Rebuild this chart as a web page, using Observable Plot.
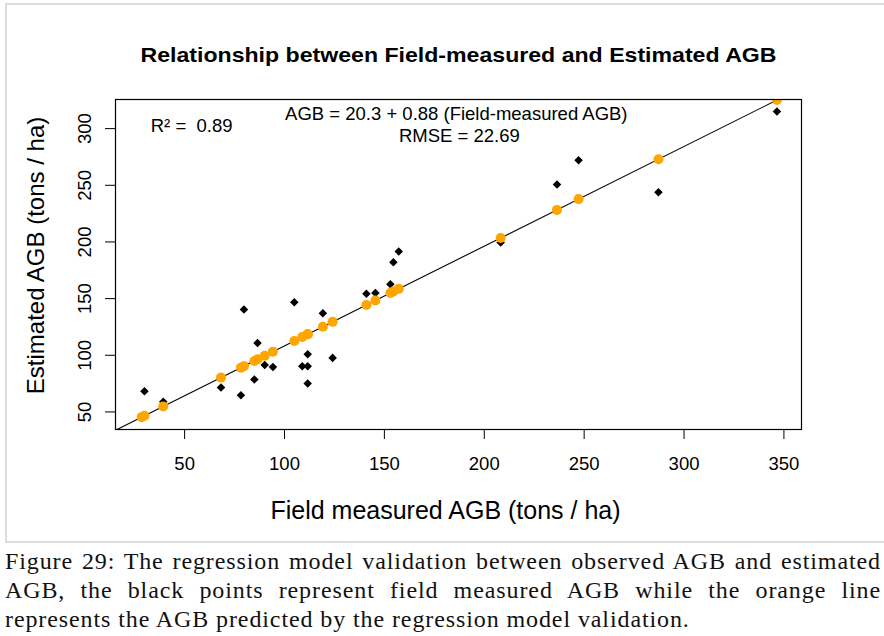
<!DOCTYPE html>
<html>
<head>
<meta charset="utf-8">
<script src="https://cdn.jsdelivr.net/npm/d3@7"></script>
<script src="https://cdn.jsdelivr.net/npm/@observablehq/plot@0.6"></script>
<style>
  html, body { margin: 0; padding: 0; background: #fff; }
  #wrap { position: relative; width: 884px; height: 636px; overflow: hidden; background: #fff; }
  #chart { position: absolute; left: 0; top: 0; }
  #border { position: absolute; left: 5px; top: 3px; width: 879px; height: 540px;
            border-top: 2px solid #dcdcdc; border-left: 2px solid #dcdcdc; border-bottom: 2px solid #dcdcdc; box-sizing: border-box; }
  #caption { position: absolute; left: 5px; top: 547px; width: 876px; font-family: "Liberation Serif", serif;
             font-size: 24px; line-height: 29px; letter-spacing: 0.9px; color: #111; }
  #caption div.j { text-align: justify; text-align-last: justify; white-space: nowrap; }
  #caption div { white-space: nowrap; }
</style>
</head>
<body>
<div id="wrap">
  <div id="border"></div>
  <div id="chart"></div>
  <div id="caption"></div>
</div>
<script>
// Field-measured AGB (x) and estimated AGB (y) – black diamonds
const fieldAGB     = [28.5, 29.9, 39.3, 68.2, 78.2, 79.7, 84.9, 86.5, 90.1, 94.2, 104.9, 108.9, 111.6, 111.6, 111.6, 119.2, 124.1, 141.0, 145.5, 153.0, 154.5, 157.2, 208.2, 236.4, 247.2, 287.2, 346.5];
const estimatedAGB = [45.5, 68.3, 58.9, 71.6, 64.8, 140.3, 78.6, 110.9, 91.5, 89.7, 146.8, 90.4, 100.9, 90.4, 75.1, 137.1, 97.7, 154.2, 155.0, 162.7, 182.1, 191.6, 199.5, 250.7, 272.1, 243.9, 315.1];
// Predicted AGB by the regression model (orange dots)
const predictedAGB = [45.4, 46.6, 54.9, 80.3, 89.1, 90.4, 95.0, 96.4, 99.6, 103.2, 112.6, 116.1, 118.5, 118.5, 118.5, 125.2, 129.5, 144.4, 148.3, 155.0, 156.3, 158.6, 203.5, 228.3, 237.8, 273.0, 325.2];
// Regression line endpoints (AGB = 20.3 + 0.88 x)
const lineX = [0, 400];
const lineY = [20.3, 372.3];
const xTicks = [50, 100, 150, 200, 250, 300, 350];
const yTicks = [50, 100, 150, 200, 250, 300];
const titleText = "Relationship between Field-measured and Estimated AGB";
const xLabel = "Field measured AGB (tons / ha)";
const yLabel = "Estimated AGB (tons / ha)";
const annText = ["R\u00B2 =  0.89", "AGB = 20.3 + 0.88 (Field-measured AGB)", "RMSE = 22.69"];
const annX = [53.5, 186.0, 187.5];
const annY = [302.1, 312.7, 293.3];
const captionLines = [
  "Figure 29: The regression model validation between observed AGB and estimated",
  "AGB, the black points represent field measured AGB while the orange line",
  "represents the AGB predicted by the regression model validation."
];

const points = fieldAGB.map((x, i) => ({x, y: estimatedAGB[i]}));
const preds = fieldAGB.map((x, i) => ({x, y: predictedAGB[i]}));
const regLine = lineX.map((x, i) => ({x, y: lineY[i]}));
const ann = annText.map((t, i) => ({t, x: annX[i], y: annY[i]}));

const diamond = {
  draw(ctx, size) {
    const h = Math.sqrt(size / 2);
    ctx.moveTo(0, -h); ctx.lineTo(h, 0); ctx.lineTo(0, h); ctx.lineTo(-h, 0); ctx.closePath();
  }
};

const chart = Plot.plot({
  width: 884,
  height: 545,
  marginLeft: 115,
  marginRight: 83,
  marginTop: 99,
  marginBottom: 116,
  x: {domain: [15.4, 358.8]},
  y: {domain: [34.5, 325.7]},
  style: {fontFamily: "'Liberation Sans', Arial, sans-serif", fontSize: "18px", color: "#000", background: "transparent"},
  marks: [
    Plot.axisX({ticks: xTicks, tickSize: 10, tickPadding: 17, fontSize: 18.5, label: null, tickFormat: d => String(d)}),
    Plot.axisY({ticks: yTicks, tickSize: 10, label: null, tickFormat: () => ""}),
    Plot.text(yTicks, {y: d => d, frameAnchor: "left", text: d => String(d), rotate: -90, dx: -30,
                       textAnchor: "middle", lineAnchor: "middle", fontSize: 18.5}),
    Plot.line(regLine, {x: "x", y: "y", stroke: "#000", strokeWidth: 1.1, clip: true}),
    Plot.dot(points, {x: "x", y: "y", symbol: diamond, r: 3.4, fill: "#000"}),
    Plot.dot(preds, {x: "x", y: "y", r: 5, fill: "#FFA500", clip: true}),
    Plot.frame({stroke: "#000", strokeWidth: 1.2}),
    Plot.text(ann, {x: "x", y: "y", text: "t", fontSize: 18.5}),
    Plot.text([titleText], {frameAnchor: "top", dy: -44, lineAnchor: "middle", fontWeight: "bold", fontSize: 20.5}),
    Plot.text([xLabel], {frameAnchor: "bottom", dx: -13, dy: 81, lineAnchor: "middle", fontSize: 25}),
    Plot.text([yLabel], {frameAnchor: "left", dx: -79, dy: -9, rotate: -90, textAnchor: "middle", lineAnchor: "middle", fontSize: 24})
  ]
});
document.getElementById("chart").appendChild(chart);

// stretch the title to the reference width
d3.select(chart).selectAll("text").filter(function() { return this.textContent === titleText; })
  .attr("textLength", 636).attr("lengthAdjust", "spacingAndGlyphs");

const cap = document.getElementById("caption");
captionLines.forEach((t, i) => {
  const d = document.createElement("div");
  if (i < captionLines.length - 1) d.className = "j";
  d.textContent = t;
  cap.appendChild(d);
});
</script>
</body>
</html>
